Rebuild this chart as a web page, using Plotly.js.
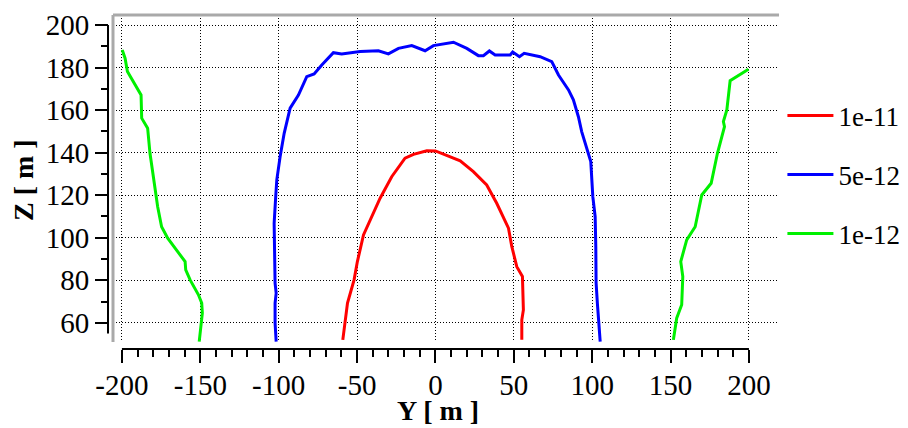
<!DOCTYPE html>
<html>
<head>
<meta charset="utf-8">
<script src="https://cdn.plot.ly/plotly-3.0.1.min.js"></script>
<style>html,body{margin:0;padding:0;background:#fff;}</style>
</head>
<body>
<div id="chart" style="width:908px;height:428px;"></div>
<script>
// Series names
const SERIES_NAMES = ['1e-11', '5e-12', '1e-12'];

// 1e-11 (red)
const Y_RED = [-59.1,-56.1,-51.9,-49.8,-45.9,-35.3,-27.9,-19.4,-14.0,-5.5,0,15.8,24.2,32.7,39.1,46.6,48.7,51.9,55.5,56.1,55.1,55.1];
const Z_RED = [52.0,69.3,80.2,88.8,101.3,118.6,128.7,137.4,139.2,140.9,140.8,136.2,131.1,124.8,116.2,104.5,95.9,86.4,81.8,66.1,61.4,52.0];

// 5e-12 (blue)
const Y_BLUE = [-101.6,-102.3,-102.3,-101.6,-102.3,-102.9,-102.9,-101.9,-101.2,-99.1,-96.5,-92.7,-87.4,-82.1,-77.4,-72.5,-65.1,-59.8,-48.0,-36.4,-30.0,-23.6,-15.1,-6.6,-1.3,
                11.5,20.0,27.4,30.6,34.4,38.1,47.7,49.3,53.6,56.6,66.8,74.2,78.5,84.9,88.0,91.2,93.3,96.5,99.1,100.4,101.9,102.3,102.5,103.3,105.1];
const Z_BLUE = [51.2,59.9,69.3,74.0,78.7,95.9,106.8,119.3,127.2,138.1,149.1,160.9,167.1,175.7,177.0,181.2,187.0,186.4,187.5,187.9,186.4,189.0,190.3,187.9,190.3,
                191.9,189.0,185.6,185.6,187.8,185.9,185.9,187.3,185.1,186.7,185.1,182.8,176.5,169.5,164.8,156.9,149.9,142.1,135.8,119.3,110.0,95.9,78.7,69.3,51.2];

// 1e-12 (green) – left and right branches
const Y_GREEN_LEFT = [-199.8,-198.0,-196.5,-194.7,-187.8,-187.4,-183.6,-182.1,-178.9,-177.2,-174.7,-170.8,-166.1,-159.7,-159.3,-156.5,-151.2,-149.1,-148.7,-149.7,-150.7];
const Z_GREEN_LEFT = [188.3,184.4,178.1,175.7,167.1,156.2,151.5,139.7,124.0,114.6,105.2,99.8,95.1,88.8,84.9,80.2,73.2,69.3,64.6,58.3,51.2];
const Y_GREEN_RIGHT = [199.7,188.0,185.9,183.7,184.4,179.9,175.9,169.9,165.7,160.3,156.5,157.8,157.1,153.9,151.8];
const Z_GREEN_RIGHT = [179.2,173.8,160.1,154.6,152.2,139.7,125.6,120.1,105.2,99.0,88.8,81.8,68.5,62.2,52.0];

// Tick labels
const X_TICKS = [-200,-150,-100,-50,0,50,100,150,200];
const X_TICK_TEXT = ['-200','-150','-100','-50','0','50','100','150','200'];
const Z_TICKS = [60,80,100,120,140,160,180,200];
const Z_TICK_TEXT = ['60','80','100','120','140','160','180','200'];
const X_TITLE = 'Y [ m ]';
const Z_TITLE = 'Z [ m ]';

const xMinor = [];
for (let v = X_TICKS[0]; v <= X_TICKS[X_TICKS.length-1]; v += 10) xMinor.push(v);
const zMinor = [];
for (let v = Z_TICKS[0]; v <= Z_TICKS[Z_TICKS.length-1]; v += 10) zMinor.push(v);

const FONT = 'Liberation Serif';

const traces = [
  {x: Y_RED, y: Z_RED, name: SERIES_NAMES[0], type: 'scatter', mode: 'lines',
   line: {color: '#ff0000', width: 3}, legendgroup: 'a'},
  {x: Y_BLUE, y: Z_BLUE, name: SERIES_NAMES[1], type: 'scatter', mode: 'lines',
   line: {color: '#0000ff', width: 3}, legendgroup: 'b'},
  {x: Y_GREEN_LEFT.concat([null], Y_GREEN_RIGHT), y: Z_GREEN_LEFT.concat([null], Z_GREEN_RIGHT),
   name: SERIES_NAMES[2], type: 'scatter', mode: 'lines', connectgaps: false,
   line: {color: '#00f000', width: 3}, legendgroup: 'c'}
];

const XD0 = 0.0192, YD0 = 0.05217, XPOS = 0.03188, YPOS = 0.01182;

const layout = {
  width: 908, height: 428,
  margin: {l: 100, r: 131, t: 15, b: 68, autoexpand: false},
  paper_bgcolor: '#ffffff', plot_bgcolor: '#ffffff',
  font: {family: FONT, size: 27, color: '#000'},
  showlegend: true,
  legend: {x: 1.008, xanchor: 'left', y: 0.7787, yanchor: 'top', itemwidth: 46,
           font: {family: FONT, size: 27, color: '#000'}, tracegroupgap: 21,
           bgcolor: 'rgba(0,0,0,0)'},
  xaxis: {
    domain: [XD0, 1], range: [-205.7, 217.9], anchor: 'free', position: XPOS,
    tickmode: 'array', tickvals: X_TICKS, ticktext: X_TICK_TEXT,
    ticks: 'outside', ticklen: 13, tickwidth: 2, tickcolor: '#000',
    ticklabelstandoff: -3,
    showline: false, zeroline: false,
    showgrid: true, gridcolor: '#000', gridwidth: 1, griddash: '1px,2px',
    minor: {tickmode: 'array', tickvals: xMinor, ticks: 'outside', ticklen: 7, tickwidth: 2, tickcolor: '#000', showgrid: false},
    tickfont: {family: FONT, size: 29, color: '#000'},
    automargin: false
  },
  yaxis: {
    domain: [YD0, 1], range: [51.0, 204.7], anchor: 'free', position: YPOS,
    tickmode: 'array', tickvals: Z_TICKS, ticktext: Z_TICK_TEXT,
    ticks: 'outside', ticklen: 13, tickwidth: 2, tickcolor: '#000',
    showline: false, zeroline: false,
    showgrid: true, gridcolor: '#000', gridwidth: 1, griddash: '1px,2px',
    minor: {tickmode: 'array', tickvals: zMinor, ticks: 'outside', ticklen: 7, tickwidth: 2, tickcolor: '#000', showgrid: false},
    tickfont: {family: FONT, size: 29, color: '#000'},
    automargin: false
  },
  annotations: [
    {text: '<b>' + X_TITLE + '</b>', xref: 'paper', yref: 'paper', x: 0.4993, y: -0.147,
     xanchor: 'center', yanchor: 'middle', showarrow: false, font: {family: FONT, size: 28, color: '#000'}},
    {text: '<b>' + Z_TITLE + '</b>', xref: 'paper', yref: 'paper', x: -0.1138, y: 0.5217, textangle: -90,
     xanchor: 'center', yanchor: 'middle', showarrow: false, font: {family: FONT, size: 28, color: '#000'}}
  ],
  shapes: [
    // grey frame (top and left)
    {type: 'line', xref: 'paper', yref: 'paper', x0: XD0, x1: 1.003, y0: 1, y1: 1, line: {color: '#a9a9a9', width: 3}},
    {type: 'line', xref: 'paper', yref: 'paper', x0: XD0, x1: XD0, y0: YD0, y1: 1, line: {color: '#a9a9a9', width: 3}},
    // detached axis lines
    {type: 'line', xref: 'x', yref: 'paper', x0: X_TICKS[0], x1: X_TICKS[X_TICKS.length-1], y0: XPOS, y1: XPOS, line: {color: '#000', width: 2}},
    {type: 'line', xref: 'paper', yref: 'y', x0: YPOS, x1: YPOS, y0: 55, y1: Z_TICKS[Z_TICKS.length-1], line: {color: '#000', width: 2}}
  ]
};

Plotly.newPlot('chart', traces, layout, {displayModeBar: false, staticPlot: true});
</script>
</body>
</html>
